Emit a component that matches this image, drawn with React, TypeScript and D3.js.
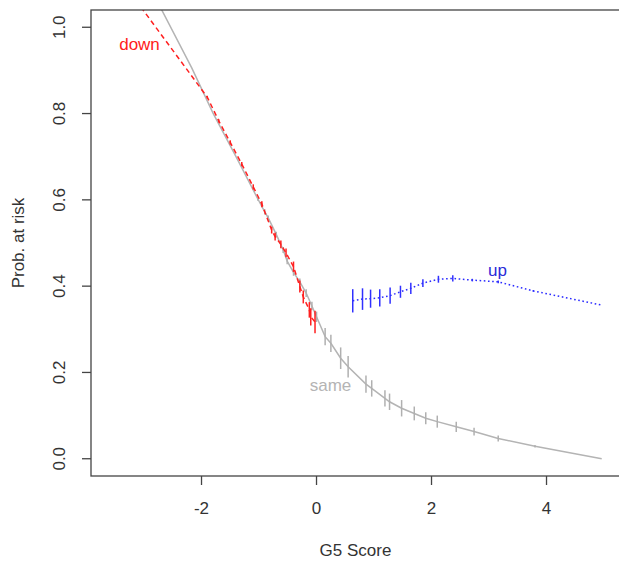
import React from "react";
import * as d3 from "d3";

// ---- data ----
const sameX = [-2.8, -2.17, -1.8, -1.4, -1.02, -0.9, -0.84, -0.7, -0.58, -0.51, -0.4, -0.29, -0.18, -0.08, 0.0, 0.15, 0.25, 0.42, 0.55, 0.86, 0.96, 1.19, 1.27, 1.48, 1.7, 1.9, 2.1, 2.43, 2.74, 3.16, 3.8, 4.96];
const sameY = [1.068, 0.906, 0.801, 0.70, 0.602, 0.572, 0.558, 0.52, 0.484, 0.458, 0.432, 0.41, 0.384, 0.354, 0.329, 0.283, 0.2675, 0.233, 0.213, 0.173, 0.163, 0.14, 0.132, 0.117, 0.105, 0.094, 0.086, 0.074, 0.063, 0.047, 0.029, 0.0];
const sameErr = [0, 0, 0, 0, 0.004, 0.006, 0.006, 0.006, 0.007, 0.007, 0.008, 0.008, 0.009, 0.01, 0.012, 0.02, 0.02, 0.025, 0.025, 0.02, 0.019, 0.019, 0.019, 0.019, 0.016, 0.014, 0.014, 0.012, 0.009, 0.007, 0.003, 0];

const downX = [-3.58, -1.9, -1.7, -1.5, -1.3, -1.1, -0.95, -0.78, -0.72, -0.62, -0.53, -0.4, -0.29, -0.23, -0.125, -0.1, -0.026];
const downY = [1.142, 0.838, 0.783, 0.733, 0.683, 0.63, 0.59, 0.53, 0.515, 0.497, 0.477, 0.445, 0.399, 0.375, 0.345, 0.329, 0.317];
const downErr = [0, 0.003, 0.004, 0.005, 0.005, 0.006, 0.007, 0.008, 0.009, 0.009, 0.01, 0.012, 0.014, 0.015, 0.018, 0.02, 0.026];

const upX = [0.63, 0.8, 0.94, 1.1, 1.28, 1.46, 1.64, 1.85, 2.12, 2.37, 2.71, 3.16, 3.77, 4.96];
const upY = [0.366, 0.37, 0.371, 0.373, 0.378, 0.387, 0.395, 0.407, 0.416, 0.418, 0.414, 0.41, 0.389, 0.356];
const upErr = [0.027, 0.025, 0.021, 0.02, 0.019, 0.014, 0.013, 0.009, 0.008, 0.007, 0.003, 0.003, 0.002, 0];

const xTicks = [-2, 0, 2, 4];
const yTicks = [0, 0.2, 0.4, 0.6, 0.8, 1.0];

const W = 619;
const H = 562;
const left = 91, right = 620, top = 10, bottom = 476;

export default function App() {
  const x = d3.scaleLinear().domain([-3.922, 5.278]).range([left, right]);
  const y = d3.scaleLinear().domain([-0.04, 1.04]).range([bottom, top]);
  const line = d3.line<[number, number]>().x(d => x(d[0])).y(d => y(d[1]));

  const series = [
    { xs: sameX, ys: sameY, es: sameErr, color: "#b4b4b4", dash: undefined as string | undefined, bar: "#b0b0b0" },
    { xs: upX, ys: upY, es: upErr, color: "#2a2aff", dash: "1.6,2.6", bar: "#3030ff" },
    { xs: downX, ys: downY, es: downErr, color: "#ff2020", dash: "5,3.5", bar: "#ff2020" },
  ];

  const font = "'Liberation Sans', Arial, sans-serif";
  const axisCol = "#444";
  const textCol = "#333";

  return (
    <svg width={W} height={H} style={{ position: "absolute", left: 0, top: 0, background: "#fff" }} fontFamily={font}>
      <defs>
        <clipPath id="plotclip">
          <rect x={left} y={top} width={right - left} height={bottom - top} />
        </clipPath>
      </defs>
      <rect x={0} y={0} width={W} height={H} fill="#fff" />
      <g clipPath="url(#plotclip)">
        {series.map((s, i) => (
          <g key={i}>
            <path d={line(s.xs.map((v, j) => [v, s.ys[j]] as [number, number])) || ""} fill="none" stroke={s.color} strokeWidth={1.5} strokeDasharray={s.dash} />
            {s.xs.map((v, j) => s.es[j] > 0 ? (
              <line key={j} x1={x(v)} x2={x(v)} y1={y(s.ys[j] - s.es[j])} y2={y(s.ys[j] + s.es[j])} stroke={s.bar} strokeWidth={1.5} />
            ) : null)}
          </g>
        ))}
      </g>
      {/* box */}
      <rect x={left} y={top} width={right - left} height={bottom - top} fill="none" stroke={axisCol} strokeWidth={1.3} />
      {/* x axis ticks */}
      {xTicks.map(t => (
        <g key={t}>
          <line x1={x(t)} x2={x(t)} y1={bottom} y2={bottom + 9} stroke={axisCol} strokeWidth={1.3} />
          <text x={x(t)} y={514} textAnchor="middle" fontSize={17} fill={textCol}>{t}</text>
        </g>
      ))}
      {/* y axis ticks */}
      {yTicks.map(t => (
        <g key={t}>
          <line x1={left} x2={left - 9} y1={y(t)} y2={y(t)} stroke={axisCol} strokeWidth={1.3} />
          <text transform={`translate(65,${y(t)}) rotate(-90)`} textAnchor="middle" fontSize={17} fill={textCol}>{t.toFixed(1)}</text>
        </g>
      ))}
      <text x={(left + right) / 2} y={556} textAnchor="middle" fontSize={17} fill={textCol}>G5 Score</text>
      <text transform={`translate(24,${(top + bottom) / 2}) rotate(-90)`} textAnchor="middle" fontSize={17} fill={textCol}>Prob. at risk</text>
      {/* curve labels */}
      <text x={139.5} y={50} textAnchor="middle" fontSize={17} fill="#ff2020">down</text>
      <text x={330.5} y={391} textAnchor="middle" fontSize={17} fill="#b4b4b4">same</text>
      <text x={497.4} y={276} textAnchor="middle" fontSize={17} fill="#2a2ad8">up</text>
    </svg>
  );
}
